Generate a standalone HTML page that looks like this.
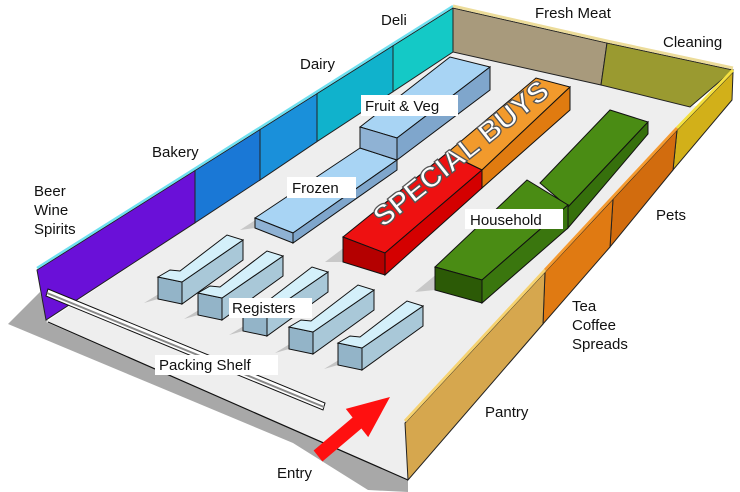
<!DOCTYPE html>
<html><head><meta charset="utf-8">
<style>
html,body{margin:0;padding:0;background:#fff;}
svg{display:block;}
text{font-family:"Liberation Sans",sans-serif;}
.lbl{font-size:15px;fill:#111;}
</style></head>
<body>
<svg width="740" height="492" viewBox="0 0 740 492">
  <!-- ground shadow -->
  <polygon points="40,292 8,324 293,443 368,490 408,492 408,480 48,322" fill="#a8a8a8"/>
  <!-- floor -->
  <polygon points="46,322 453,52 705,108 408,480" fill="#eeeeee"/>
  <line x1="48" y1="322" x2="408" y2="480" stroke="#111" stroke-width="1.2"/>

  <!-- object shadows -->
  <g fill="#c8c8c8">
    <polygon points="343,262 325,262 420,190 482,188 385,275"/>
    <polygon points="435,290 415,292 520,205 568,228 482,303"/>
    <polygon points="255,228 240,230 340,165 397,170 293,243"/>
  </g>

  <!-- left wall sections -->
  <g stroke="#222" stroke-width="1">
    <polygon points="37,270 195,170.5 195,222.8 46,320" fill="#6a10d8"/>
    <polygon points="195,170.5 260,129.5 260,180 195,222.8" fill="#1a78d6"/>
    <polygon points="260,129.5 317,93.6 317,141.6 260,180" fill="#1a90da"/>
    <polygon points="317,93.6 393,45.7 393,91.7 317,141.6" fill="#10b2cc"/>
    <polygon points="393,45.7 453,8 453,52 393,91.7" fill="#14c9c6"/>
  </g>
  <polyline points="37,268 195,168.5 260,127.5 317,91.6 393,43.7 453,6" fill="none" stroke="#6ee0f0" stroke-width="2.5"/>

  <!-- back wall -->
  <g stroke="#222" stroke-width="1">
    <polygon points="453,8 607,43 601,85 453,52" fill="#a89a7c"/>
    <polygon points="607,43 733,70 690,107 601,85" fill="#9a9a30"/>
  </g>
  <polyline points="453,6 607,41 733,68" fill="none" stroke="#ecdc9a" stroke-width="3"/>

  <!-- green household -->
  <g stroke="#111" stroke-width="1">
    <polygon points="540,183 568,207 648,122 610,110" fill="#4a8c14"/>
    <polygon points="568,207 648,122 648,134 568,228" fill="#36700c"/>
    <polygon points="435,267 482,280 568,205 527,180" fill="#4a8c14"/>
    <polygon points="482,280 568,205 568,228 482,303" fill="#3a760e"/>
    <polygon points="435,267 482,280 482,303 435,290" fill="#2c5a06"/>
  </g>

  <!-- special buys -->
  <g stroke="#111" stroke-width="1">
    <polygon points="447,153 482,170 570,87 536,78" fill="#f29a2c"/>
    <polygon points="482,170 570,87 570,110 482,188" fill="#e07b10"/>
    <polygon points="343,237 385,253 482,170 447,153" fill="#ee1111"/>
    <polygon points="385,253 482,170 482,188 385,275" fill="#d40000"/>
    <polygon points="343,237 385,253 385,275 343,262" fill="#b40000"/>
  </g>

  <!-- frozen / fruit & veg -->
  <g stroke="#111" stroke-width="1">
    <polygon points="255,218 293,233 397,160 360,148" fill="#a8d4f4"/>
    <polygon points="293,233 397,160 397,170 293,243" fill="#7fa6cc"/>
    <polygon points="255,218 293,233 293,243 255,228" fill="#8fb2d4"/>
  </g>
  <g stroke="#111" stroke-width="1">
    <polygon points="360,127 397,138 490,67 450,57" fill="#a8d4f4"/>
    <polygon points="397,138 490,67 490,90 397,160" fill="#7fa6cc"/>
    <polygon points="360,127 397,138 397,160 360,148" fill="#8fb2d4"/>
  </g>

  <!-- registers -->
  <g id="registers"></g>

  <!-- packing shelf -->
  <g>
    <polygon points="48,289 325,403 323,410 46,296" fill="#ffffff" stroke="#111" stroke-width="1"/>
    <line x1="47" y1="293" x2="324" y2="407" stroke="#888" stroke-width="2"/>
  </g>

  <!-- right wall -->
  <g stroke="#222" stroke-width="1">
    <polygon points="733,72 677,130 673,170 732,100" fill="#d2b019"/>
    <polygon points="677,130 613,199 610,247 673,170" fill="#d26c0e"/>
    <polygon points="613,199 545,272 543,324 610,247" fill="#e07a12"/>
    <polygon points="545,272 405,423 408,480 543,324" fill="#d6a74e"/>
  </g>
  <polyline points="733,70 677,128" fill="none" stroke="#f4e040" stroke-width="3"/>
  <polyline points="677,128 545,270" fill="none" stroke="#f59a30" stroke-width="3"/>
  <polyline points="545,270 405,421" fill="none" stroke="#f6d270" stroke-width="3"/>

  <!-- entry arrow -->
  <polygon points="313.6,450.5 352.6,417.5 345.8,408.9 390,397 368.2,437.1 361.4,428.5 322.4,461.5" fill="#ff1010"/>

  <!-- special buys sign -->
  <text x="0" y="0" transform="translate(383,228) rotate(-38.5)" font-size="29" font-weight="bold" fill="#ffffff" stroke="#555" stroke-width="1.3" textLength="215" lengthAdjust="spacingAndGlyphs">SPECIAL BUYS</text>

  <!-- labels -->
  <g>
    <text class="lbl" x="34" y="196">Beer</text>
    <text class="lbl" x="34" y="215">Wine</text>
    <text class="lbl" x="34" y="234">Spirits</text>
    <text class="lbl" x="152" y="157">Bakery</text>
    <text class="lbl" x="300" y="69">Dairy</text>
    <text class="lbl" x="381" y="25">Deli</text>
    <text class="lbl" x="535" y="18">Fresh Meat</text>
    <text class="lbl" x="663" y="47">Cleaning</text>
    <text class="lbl" x="656" y="220">Pets</text>
    <text class="lbl" x="572" y="311">Tea</text>
    <text class="lbl" x="572" y="330">Coffee</text>
    <text class="lbl" x="572" y="349">Spreads</text>
    <text class="lbl" x="485" y="417">Pantry</text>
    <text class="lbl" x="277" y="478">Entry</text>

    <rect x="361" y="95" width="97" height="21" fill="#fff"/>
    <text class="lbl" x="365" y="111">Fruit &amp; Veg</text>
    <rect x="287" y="177" width="69" height="21" fill="#fff"/>
    <text class="lbl" x="292" y="193">Frozen</text>
    <rect x="465" y="209" width="98" height="20" fill="#fff"/>
    <text class="lbl" x="470" y="225">Household</text>
    <rect x="229" y="298" width="83" height="20" fill="#fff"/>
    <text class="lbl" x="232" y="313">Registers</text>
    <rect x="155" y="355" width="123" height="20" fill="#fff"/>
    <text class="lbl" x="159" y="370">Packing Shelf</text>
  </g>
</svg>
<script>
const registerBasesX = [158, 198, 243, 289, 338];
const registerBasesY = [277, 293, 309, 327, 343];
const NS = 'http://www.w3.org/2000/svg';
const regG = document.getElementById('registers');
function pts(x, y, arr) { return arr.map(p => (x + p[0]) + ',' + (y + p[1])).join(' '); }
registerBasesX.forEach((x, i) => {
  const y = registerBasesY[i];
  const g = document.createElementNS(NS, 'g');
  
  
  const sh = document.createElementNS(NS, 'polygon');
  
  
  sh.setAttribute('points', pts(x, y, [[0,22],[-14,26],[58,-18],[85,-17],[24,27]]));
  sh.setAttribute('fill', '#c4c4c4');
  g.appendChild(sh);
  const faces = [
    [[[24,5],[85,-37],[85,-17],[24,27]], '#a9c8d8'],
    [[[0,0],[24,5],[24,27],[0,22]], '#93b4c8'],
    [[[0,0],[12,-7],[22,-6],[69,-42],[85,-37],[24,5]], '#d4f0fa']
  ];
  faces.forEach(f => {
    const p = document.createElementNS(NS, 'polygon');
    
    
    p.setAttribute('points', pts(x, y, f[0]));
    p.setAttribute('fill', f[1]);
    p.setAttribute('stroke', '#111');
    p.setAttribute('stroke-width', '1');
    g.appendChild(p);
  });
  regG.appendChild(g);
});
</script>
</body></html>
